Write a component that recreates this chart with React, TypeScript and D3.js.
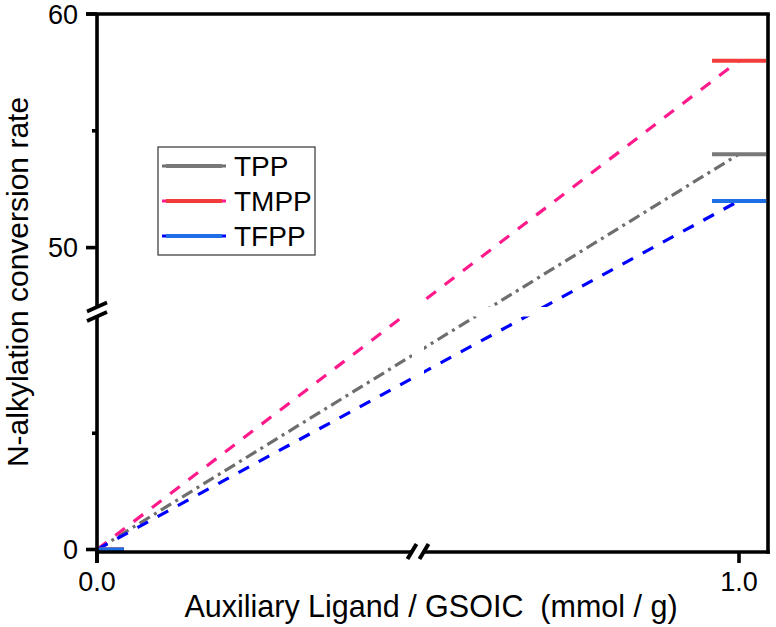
import { useEffect } from 'react';
import * as d3 from 'd3';

// ── data ──
const seriesNames = ['TPP', 'TMPP', 'TFPP'];
const xValues = [0.0, 1.0];
const tppValues = [0, 54];
const tmppValues = [0, 58];
const tfppValues = [0, 52];
const yMajorTicks = [0, 50, 60];
const yMinorTicks = [5, 55];
const xTicks = [0.0, 1.0];
const xTickLabels = ['0.0', '1.0'];

const FONT = '"Liberation Sans", Arial, Helvetica, sans-serif';
const W = 776;
const H = 627;

// plot frame
const left = 97;
const right = 768;
const top = 14;
const bottom = 552;

// broken y axis: lower piece 0–10, upper piece 47.5–60
const y = d3.scaleLinear().domain([0, 10, 47.5, 60]).range([549.5, 317, 306, top]);
const x = d3.scaleLinear().domain([0, 1]).range([left, 739]);

const yBreak = [307, 316.5];
const xBreak = [412, 424];
const capHalf = 0.042; // half width of the level bars

const STYLES = [
  { name: seriesNames[0], values: tppValues, line: '#6e6e6e', bar: '#787878', dash: '12,5,3,5' },
  { name: seriesNames[1], values: tmppValues, line: '#ff1a8c', bar: '#f23c3c', dash: '12,11' },
  { name: seriesNames[2], values: tfppValues, line: '#0000ff', bar: '#1e6ee8', dash: '12,11' },
];

export default function App() {
  useEffect(() => {
    document.body.style.margin = '0';
  }, []);

  const line = d3.line<[number, number]>().x(d => x(d[0])).y(d => y(d[1]));

  return (
    <svg width={W} height={H} style={{ display: 'block', background: '#fff' }} fontFamily={FONT}>
      <defs>
        <clipPath id="plot">
          <rect x={left} y={top} width={right - left} height={bottom - top} />
        </clipPath>
      </defs>

      <g clipPath="url(#plot)">
        {/* connecting lines */}
        {STYLES.map(s => (
          <path
            key={'l' + s.name}
            d={line(xValues.map((v, i) => [v, s.values[i]] as [number, number])) ?? ''}
            fill="none"
            stroke={s.line}
            strokeWidth={3.2}
            strokeDasharray={s.dash}
          />
        ))}
        {/* level bars */}
        {STYLES.map(s =>
          xValues.map((v, i) => (
            <line
              key={'b' + s.name + i}
              x1={x(v - capHalf)}
              x2={x(v + capHalf)}
              y1={y(s.values[i])}
              y2={y(s.values[i])}
              stroke={s.bar}
              strokeWidth={4}
            />
          ))
        )}
        {/* white break bands */}
        <rect x={left} y={yBreak[0]} width={right - left} height={yBreak[1] - yBreak[0]} fill="#fff" />
        <rect x={xBreak[0]} y={top} width={xBreak[1] - xBreak[0]} height={bottom - top} fill="#fff" />
      </g>

      {/* frame */}
      <g stroke="#000" strokeWidth={3.6} fill="none">
        <line x1={left - 11} x2={right + 1.8} y1={top} y2={top} />
        <line x1={right} x2={right} y1={top} y2={bottom + 1.8} />
        <line x1={left} x2={left} y1={top} y2={yBreak[0]} />
        <line x1={left} x2={left} y1={yBreak[1]} y2={bottom + 11} />
        <line x1={left - 1.8} x2={xBreak[0] + 1} y1={bottom} y2={bottom} />
        <line x1={xBreak[1] - 1} x2={right + 1.8} y1={bottom} y2={bottom} />
      </g>

      {/* y break marks */}
      <g stroke="#000" strokeWidth={3.6}>
        {yBreak.map(b => (
          <line key={'yb' + b} x1={left - 10} x2={left + 10} y1={b + 4.5} y2={b - 4.5} />
        ))}
      </g>
      {/* x break marks */}
      <g stroke="#000" strokeWidth={4}>
        {xBreak.map(b => (
          <line key={'xb' + b} x1={b - 4.5} x2={b + 4.5} y1={bottom + 7} y2={bottom - 8} />
        ))}
      </g>

      {/* ticks */}
      <g stroke="#000" strokeWidth={3.6}>
        {yMajorTicks.map(t => (
          <line key={'ym' + t} x1={left - 11} x2={left} y1={y(t)} y2={y(t)} />
        ))}
        {yMinorTicks.map(t => (
          <line key={'yn' + t} x1={left - 5} x2={left} y1={y(t)} y2={y(t)} />
        ))}
        {xTicks.map(t => (
          <line key={'xt' + t} x1={x(t)} x2={x(t)} y1={bottom} y2={bottom + 11} />
        ))}
      </g>
      {yMajorTicks.map(t => (
        <text key={'yl' + t} x={78} y={y(t)} dy="0.36em" textAnchor="end" fontSize={27} fill="#000">
          {t}
        </text>
      ))}
      {xTicks.map((t, i) => (
        <text key={'xl' + t} x={x(t)} y={591} textAnchor="middle" fontSize={27} fill="#000">
          {xTickLabels[i]}
        </text>
      ))}

      {/* axis titles */}
      <text x={431} y={617} textAnchor="middle" fontSize={30.5} fill="#000" style={{ whiteSpace: 'pre' }}>
        {'Auxiliary Ligand / GSOIC  (mmol / g)'}
      </text>
      <text transform={`translate(28,282) rotate(-90)`} textAnchor="middle" fontSize={30} fill="#000">
        N-alkylation conversion rate
      </text>

      {/* legend */}
      <rect x={158} y={147} width={157} height={108} fill="#fff" stroke="#333" strokeWidth={1.2} />
      {STYLES.map((s, i) => {
        const ly = 166 + i * 35;
        return (
          <g key={'lg' + s.name}>
            <line x1={162} x2={226} y1={ly} y2={ly} stroke={s.line} strokeWidth={3} />
            <line x1={166} x2={222} y1={ly} y2={ly} stroke={s.bar} strokeWidth={4.2} />
            <text x={234} y={ly} dy="0.36em" fontSize={28} fill="#000">
              {s.name}
            </text>
          </g>
        );
      })}
    </svg>
  );
}
